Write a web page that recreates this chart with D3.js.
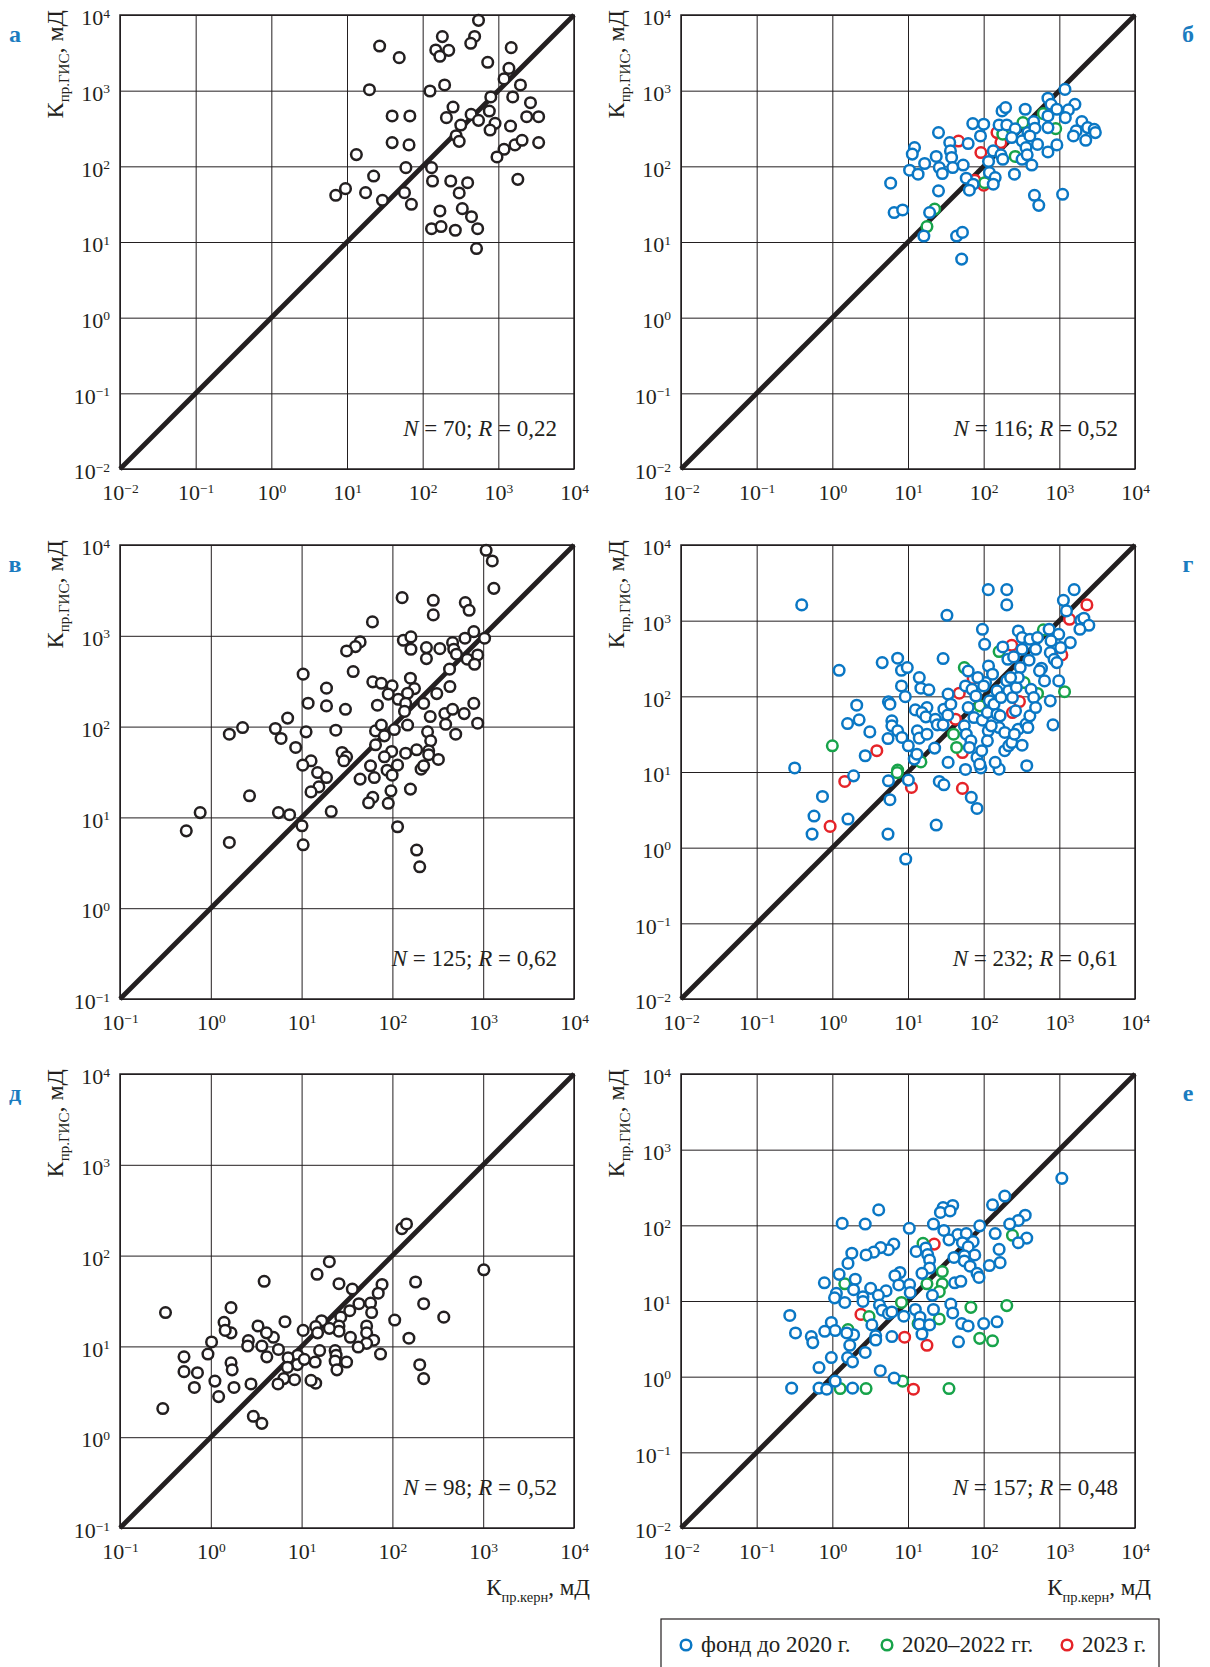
<!DOCTYPE html>
<html>
<head>
<meta charset="utf-8">
<script src="https://cdn.jsdelivr.net/npm/d3@7"></script>
<style>
  body { margin: 0; background: #fff; }
  svg { display: block; }
  text { font-family: "Liberation Serif", "Times New Roman", serif; fill: #231f20; }
</style>
</head>
<body>
<svg id="chart" width="1210" height="1667"></svg>
<script>
// Permeability pairs [core, log-derived] in mD, one array per panel / well group.
const pointsA = [[547,8500],[182,5180],[486,5200],[432,4230],[27,3890],[49,2730],[149,3450],[169,2850],[221,3410],[1480,3700],[724,2370],[1380,1970],[1190,1430],[1960,1190],[195,1190],[19.8,1030],[125,990],[795,825],[1550,825],[2660,693],[252,608],[760,538],[437,486],[39.5,463],[67.7,463],[206,440],[2370,453],[3410,453],[547,405],[905,370],[319,351],[1450,341],[778,302],[277,254],[304,214],[39.5,206],[66,192],[1660,192],[2060,221],[3410,206],[1190,168],[960,133],[13.3,143],[60,96],[131,96],[22.5,74.5],[135,64],[235,64],[393,60.8],[1810,67.3],[9.55,50.7],[7.1,41.4],[17.6,44.9],[29.4,35.6],[57.5,44.9],[71,31.5],[304,44.5],[169,25.7],[334,27.6],[442,21.6],[131,15],[175,16],[270,14.3],[533,15],[515,8.2]];

const blueB = [[1186,1040],[707,795],[777,660],[1607,660],[175,540],[195,597],[354,568],[927,568],[1318,557],[707,463],[1200,440],[71.8,367],[100,360],[160,352],[202,352],[458,391],[1986,391],[261,313],[384,279],[475,319],[707,325],[1667,294],[2367,325],[2890,309],[2990,279],[25.3,279],[35.6,206],[90.8,252],[235,240],[322,217],[408,252],[363,177],[515,195],[927,192],[1535,252],[2233,221],[62.4,200],[12.2,177],[11.4,145],[36.4,160],[23.6,135],[37.7,131],[134,160],[169,142],[179,124],[322,124],[376,142],[432,104],[707,155],[116,116],[16.6,109],[25.9,96.4],[39,96.4],[53.6,104],[10.5,88.9],[13.6,78.7],[28.4,80.3],[119,82.8],[142,71.1],[255,78.7],[58.9,69.7],[72.6,58.1],[64.7,48.4],[134,58.1],[5.9,59.9],[25.3,47.4],[6.56,24.5],[8.5,26.5],[19.3,24.5],[469,41.4],[535,30.5],[1105,42.7],[16.2,12],[43.9,12],[52.4,13.4],[51.2,5.94]];
const greenB = [[330,378],[615,497],[895,315],[179,266],[261,135],[103,60.8],[22.5,27.2],[17.8,16]];
const redB = [[46.5,216],[91.9,152],[150,279],[169,206],[76.2,65.6],[100,56.4]];

const pointsV = [[1077,8740],[1259,6670],[1310,3330],[128,2630],[282,2460],[282,1700],[635,2320],[700,1910],[60.3,1422],[788,1111],[1036,940],[132,893],[160,973],[160,711],[44.1,857],[39.2,760],[31.3,681],[237,741],[237,561],[333,722],[460,841],[474,711],[630,940],[507,627],[667,552],[869,615],[803,486],[426,429],[37,404],[10.4,378],[60.8,311],[75.5,300],[99.3,281],[158,341],[175,262],[147,233],[90,228],[116,200],[140,180],[308,231],[221,180],[430,276],[18.8,265],[18.8,169],[11.8,181],[30.4,155],[68.4,172],[136,147],[261,129],[378,139],[460,155],[617,139],[788,180],[869,109],[386,106],[7.02,124],[2.24,97.7],[1.6,82.4],[5.14,95.3],[5.94,74],[8.61,58.9],[11.2,87.5],[23.8,91.2],[65.2,89.7],[75.5,104],[81.6,79.1],[105,92.8],[65.2,63.1],[147,104],[244,87.5],[264,69.7],[498,82.4],[251,54.1],[251,49],[27.9,51.9],[31.3,46.5],[29.2,42],[12.7,42],[10.3,37.6],[98.2,53.2],[81.6,46.5],[140,50.9],[185,55.5],[321,43.5],[57.4,37],[114,37.6],[87.4,33.1],[99.3,29.2],[207,34],[221,37],[15,31.2],[18.8,27.5],[44.1,26.4],[63.2,27.5],[15.5,21.7],[12.7,19.1],[158,20.5],[96.4,19.6],[60.8,16.6],[54.7,14.5],[90,14.3],[2.67,17.3],[5.56,11.3],[7.38,10.7],[21.2,11.6],[0.764,11.3],[0.537,7.11],[1.6,5.3],[10.1,8.09],[10.4,4.99],[114,7.89],[185,4.37],[200,2.86]];

const blueG = [[0.394,1615],[115,2570],[202,2570],[202,1615],[1570,2570],[1132,1857],[1242,1346],[32.7,1178],[1919,1010],[2110,1077],[2454,869],[1870,769],[96.3,769],[733,769],[982,660],[103,487],[287,731],[322,597],[408,568],[515,597],[777,540],[1397,513],[1042,440],[179,449],[322,419],[486,419],[759,378],[853,309],[927,279],[209,309],[249,332],[398,300],[580,235],[637,160],[982,160],[29.1,316],[4.56,279],[7.3,319],[8.2,221],[9.78,240],[1.23,221],[14.1,177],[14.8,128],[18.9,122],[8.2,137],[9.2,99],[5.51,84.6],[5.77,78.7],[2.1,76.4],[12.5,66.2],[17.8,71.1],[15.3,61.1],[17.2,53.6],[23,49.9],[24.4,42],[29.1,42],[33.9,107],[29.8,67.6],[36.8,78.7],[33.5,56.4],[1.59,43.7],[2.26,48.9],[3.13,33.9],[6.12,47.4],[6.12,40.7],[7.3,35],[5.44,27.7],[8.3,28.6],[10.1,22.2],[13.3,35],[14.1,28],[17.8,31.6],[22.5,20.7],[2.72,16.4],[12.1,14.8],[13.1,17.2],[33.9,13.4],[0.318,11.3],[1.91,8.9],[5.51,7.66],[10.1,7.82],[25.9,7.5],[29.8,6.78],[57.5,10.8],[91.8,11.3],[160,10.9],[371,12.1],[0.741,4.75],[0.573,2.62],[0.54,1.51],[1.61,2.39],[5.77,4.3],[5.44,1.51],[9.33,0.708],[23.6,1.99],[68.6,4.62],[81.7,3.3],[62.4,216],[57.5,137],[70.2,124],[78.9,101],[62.4,71.1],[74.5,52.5],[55.5,40.7],[58.9,31.6],[67.8,25.8],[64.7,21.1],[81.7,15.6],[88.7,12.7],[94.2,19.1],[96.3,48.4],[112,61.1],[119,87.1],[106,152],[116,252],[131,196],[137,78.7],[150,118],[150,58.1],[160,38.7],[115,35],[112,25.8],[126,40.7],[190,33.3],[190,19.1],[214,22.2],[235,24.5],[322,22.6],[142,13.4],[202,160],[214,118],[240,96.4],[270,131],[169,96.4],[264,64.3],[165,55.2],[287,36.8],[255,31.6],[363,42.9],[384,38.7],[408,55.2],[423,124],[458,96.4],[486,71.1],[547,217],[759,87.1],[824,42],[304,240],[287,177],[227,177],[83.7,177],[100,137]];
const greenG = [[1.0,22.2],[7.3,10.6],[7.2,9.8],[14.8,13.6],[40,31.6],[43.9,21.1],[55.5,240],[88.7,74.8],[160,391],[342,152],[515,109],[615,755],[1172,115]];
const redG = [[0.935,1.91],[1.46,7.5],[3.87,19.1],[11.1,6.26],[52.4,6.07],[52.4,18.1],[47.6,110],[42.4,49.9],[72.6,172],[235,473],[297,85.3],[240,61.1],[1079,353],[1365,1043],[2312,1615]];

const pointsD = [[127,198],[143,223],[1016,69.8],[20.2,85.7],[14.8,62.2],[3.87,52.1],[25.8,49],[180,51.2],[76.9,48.1],[36.2,42.8],[69.8,38.5],[57.4,30],[42.8,29.5],[221,29.5],[368,21],[106,19.5],[33.9,24.7],[59.1,23.6],[27,21],[25.8,16.8],[25.8,14.7],[16.6,19.2],[20.2,15.8],[14.3,16.5],[15,14.1],[10.4,15],[34.5,12.6],[52,16.8],[52,14.1],[62.1,11.7],[52,10.8],[42,9.84],[74,8.24],[152,12.3],[200,6.29],[221,4.42],[23.4,9.0],[24,8.0],[23.4,6.9],[31.3,6.72],[24.5,5.52],[15.8,9.0],[14.1,6.72],[14.3,3.93],[12.7,4.22],[9.06,8.0],[9.0,6.3],[10.7,7.2],[8.37,4.3],[7.1,7.5],[6.98,5.87],[6.37,4.42],[6.56,18.7],[5.56,9.25],[5.5,3.86],[4.89,12.6],[4.1,14.1],[3.65,10.1],[4.14,7.67],[3.31,16.8],[2.59,11.6],[2.55,10.1],[2.77,3.86],[2.94,1.7],[3.65,1.42],[1.67,26.7],[1.67,14.1],[1.4,18.4],[1.44,15],[1.67,6.6],[1.72,5.52],[1.8,3.53],[1.02,11.2],[0.93,8.24],[1.11,4.15],[1.22,2.8],[0.507,7.67],[0.507,5.27],[0.713,5.13],[0.659,3.53],[0.317,23.6],[0.296,2.07]];

const blueE = [[1079,418],[190,244],[131,187],[39,183],[29.1,172],[26.8,148],[36,155],[4.1,160],[354,136],[287,116],[21.7,104],[1.35,106],[2.72,104],[10.4,91.4],[88.7,98.4],[221,104],[29.8,85.6],[142,77.9],[371,67.8],[45.5,75.3],[58.9,77.9],[34.8,64.3],[52.4,58.9],[72.6,60.9],[287,58.9],[62.4,51.9],[6.49,56.5],[5.51,47.6],[4.35,50.8],[3.52,44.2],[2.79,40.6],[1.81,42.8],[1.61,31.4],[12.8,45.2],[17.2,50.2],[18.2,41],[19.3,34.9],[19.3,27.3],[15.3,23.2],[160,48.1],[76.2,40.6],[55.5,39.7],[40.5,37.6],[55.5,33.8],[66.2,28.8],[119,29.4],[165,32.1],[81.7,23.2],[86.7,20.5],[41.4,17.4],[49.9,18.2],[7.83,23.8],[6.71,21.6],[1.23,22.5],[2.01,19.4],[0.785,17.4],[1.91,14.1],[3.21,14.7],[5.13,13.6],[7.55,16.3],[10.5,16.5],[10.7,12.9],[1.13,12.6],[1.07,11],[1.46,9.57],[2.54,11.4],[2.54,9.86],[4.06,11.9],[4.2,8.87],[4.56,7.56],[5.51,6.8],[6.12,7.17],[8.8,6.3],[12.5,7.72],[14.4,6.1],[21,11.9],[21.7,7.72],[36.8,9.08],[39,6.95],[51.2,5.04],[62.4,4.68],[100,5.04],[150,5.31],[46.5,2.89],[14.1,4.93],[19.3,4.83],[15.3,3.66],[6.12,3.39],[3.33,4.83],[3.74,3.47],[3.74,3.05],[2.72,2.09],[1.91,3.58],[1.55,3.78],[1.7,2.6],[1.59,1.79],[1.85,1.57],[0.97,5.2],[1.09,4.07],[0.794,3.98],[0.527,3.39],[0.552,2.82],[0.326,3.78],[0.274,6.44],[0.667,1.32],[0.97,1.79],[1.09,0.873],[4.3,1.2],[6.56,0.96],[0.29,0.705],[0.667,0.705],[0.843,0.683],[1.85,0.705]];
const greenE = [[240,73.8],[15.8,57.7],[28.4,24.5],[28.4,16.9],[17.8,16.9],[25.9,13.3],[1.46,16.9],[8.2,9.57],[3.06,6.23],[13.6,5.04],[25.9,5.79],[1.61,4.2],[67.8,8.24],[202,8.69],[88.7,3.21],[131,2.98],[8.5,0.873],[1.27,0.697],[2.79,0.697],[34.8,0.697]];
const redE = [[22.2,56.5],[2.39,6.65],[9.02,3.32],[17.8,2.6],[11.8,0.683]];

// Axis decades (powers of ten) used for ticks and grid.
const decadesWide = [-2, -1, 0, 1, 2, 3, 4];
const decadesNarrow = [-1, 0, 1, 2, 3, 4];

const panelLetters = ['а', 'б', 'в', 'г', 'д', 'е'];
const sampleSizes = ['70', '116', '125', '232', '98', '157'];
const correlations = ['0,22', '0,52', '0,62', '0,61', '0,52', '0,48'];
const legendLabels = ['фонд до 2020 г.', '2020–2022 гг.', '2023 г.'];

const colors = { black: '#231f20', blue: '#0a77c4', green: '#17a34a', red: '#e52328' };
const letterColor = '#1b7cc0';

const SIZE = 454;
const svg = d3.select('#chart');
svg.append('rect').attr('width', 1210).attr('height', 1667).attr('fill', '#fff');

const panels = [
  { x: 120, y: 15,   decades: decadesWide,   left: true,  series: [['black', pointsA]] },
  { x: 681, y: 15,   decades: decadesWide,   left: false, series: [['red', redB], ['green', greenB], ['blue', blueB]] },
  { x: 120, y: 545,  decades: decadesNarrow, left: true,  series: [['black', pointsV]] },
  { x: 681, y: 545,  decades: decadesWide,   left: false, series: [['red', redG], ['green', greenG], ['blue', blueG]] },
  { x: 120, y: 1074, decades: decadesNarrow, left: true,  series: [['black', pointsD]], xTitle: true },
  { x: 681, y: 1074, decades: decadesWide,   left: false, series: [['red', redE], ['green', greenE], ['blue', blueE]], xTitle: true }
];

// "10" with the exponent as a raised tspan
function supLabel(sel) {
  sel.each(function (d) {
    const e = Math.round(Math.log10(d));
    const t = d3.select(this);
    t.text(null);
    t.append('tspan').text('10');
    t.append('tspan').attr('dy', -7.5).attr('font-size', 13.5)
      .text(e < 0 ? '\u2212' + Math.abs(e) : String(e));
  });
}

panels.forEach((p, i) => {
  const lo = Math.pow(10, p.decades[0]);
  const hi = 1e4;
  const xs = d3.scaleLog().domain([lo, hi]).range([0, SIZE]);
  const ys = d3.scaleLog().domain([lo, hi]).range([SIZE, 0]);
  const ticks = p.decades.map(e => Math.pow(10, e));

  const g = svg.append('g').attr('transform', `translate(${p.x},${p.y})`);

  // bottom axis with full-height grid lines
  const gx = g.append('g').attr('transform', `translate(0,${SIZE})`)
    .call(d3.axisBottom(xs).tickValues(ticks).tickSize(-SIZE).tickPadding(15.5).tickFormat(d => d));
  gx.select('.domain').remove();
  gx.selectAll('line').attr('stroke', colors.black).attr('stroke-width', 1);
  gx.selectAll('text').attr('font-size', 22).attr('fill', colors.black).call(supLabel);

  // left axis with full-width grid lines
  const gy = g.append('g')
    .call(d3.axisLeft(ys).tickValues(ticks).tickSize(-SIZE).tickPadding(10).tickFormat(d => d));
  gy.select('.domain').remove();
  gy.selectAll('line').attr('stroke', colors.black).attr('stroke-width', 1);
  gy.selectAll('text').attr('font-size', 22).attr('fill', colors.black)
    .attr('dy', '0.44em').call(supLabel);

  // frame
  g.append('rect').attr('width', SIZE).attr('height', SIZE)
    .attr('fill', 'none').attr('stroke', colors.black).attr('stroke-width', 1.5);

  // 1:1 line
  g.append('line')
    .attr('x1', xs(lo)).attr('y1', ys(lo)).attr('x2', xs(hi)).attr('y2', ys(hi))
    .attr('stroke', colors.black).attr('stroke-width', 4.8);

  // scatter points
  p.series.forEach(([c, pts]) => {
    g.append('g').selectAll('circle').data(pts).join('circle')
      .attr('cx', d => xs(d[0])).attr('cy', d => ys(d[1])).attr('r', 5.3)
      .attr('fill', '#fff').attr('stroke', colors[c]).attr('stroke-width', 2.5);
  });

  // statistics
  const st = g.append('text').attr('x', SIZE - 17).attr('y', SIZE - 33)
    .attr('text-anchor', 'end').attr('font-size', 23);
  st.append('tspan').attr('font-style', 'italic').text('N');
  st.append('tspan').text(` = ${sampleSizes[i]}; `);
  st.append('tspan').attr('font-style', 'italic').text('R');
  st.append('tspan').text(` = ${correlations[i]}`);

  // y title
  const yt = g.append('text').attr('text-anchor', 'end')
    .attr('transform', `translate(-57,-5) rotate(-90)`).attr('font-size', 24);
  yt.append('tspan').text('К');
  yt.append('tspan').attr('font-size', 15).attr('dy', 6).text('пр.ГИС');
  yt.append('tspan').attr('dy', -6).text(', мД');

  // x title
  if (p.xTitle) {
    const xt = g.append('text').attr('text-anchor', 'end')
      .attr('x', SIZE + 16).attr('y', SIZE + 67).attr('font-size', 23);
    xt.append('tspan').text('К');
    xt.append('tspan').attr('font-size', 14.5).attr('dy', 6.5).text('пр.керн');
    xt.append('tspan').attr('dy', -6.5).text(', мД');
  }

  // panel letter
  svg.append('text')
    .attr('x', p.left ? 15 : 1188).attr('y', p.y + 27)
    .attr('text-anchor', 'middle').attr('font-size', 24).attr('font-weight', 'bold')
    .style('fill', letterColor).text(panelLetters[i]);
});

// legend
const lg = svg.append('g');
lg.append('rect').attr('x', 661).attr('y', 1619).attr('width', 498).attr('height', 70)
  .attr('fill', '#fff').attr('stroke', colors.black).attr('stroke-width', 1.2);
const legendKeys = ['blue', 'green', 'red'];
const legendX = [686, 887, 1067];
legendKeys.forEach((k, j) => {
  lg.append('circle').attr('cx', legendX[j]).attr('cy', 1645).attr('r', 5.3)
    .attr('fill', '#fff').attr('stroke', colors[k]).attr('stroke-width', 2.5);
  lg.append('text').attr('x', legendX[j] + 15).attr('y', 1652).attr('font-size', 23)
    .text(legendLabels[j]);
});
</script>
</body>
</html>
